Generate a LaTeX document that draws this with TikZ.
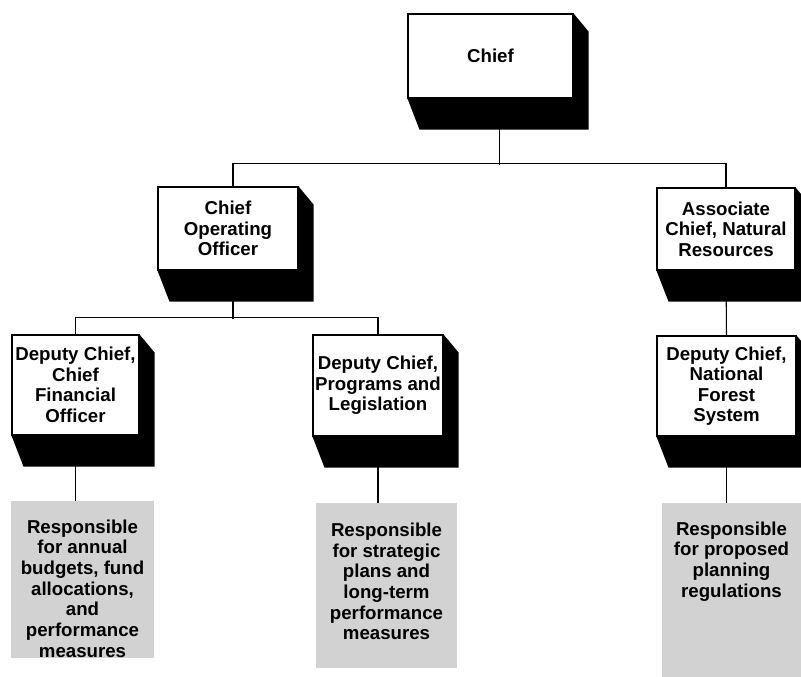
\documentclass[tikz,border=0pt]{standalone}
\usepackage{fontspec}
\setmainfont{Liberation Sans}
\usetikzlibrary{positioning}
\tikzstyle{office} = [rectangle,draw=black,fill=white,line width=0.8pt,align=center,inner sep=1pt, font=\fontsize{14}{15.4}\selectfont\bfseries]
\tikzstyle{note} = [rectangle,fill=gray!35,inner sep=0pt]
\tikzstyle{notetext} = [align=center,inner sep=0pt, font=\fontsize{14}{15.5}\selectfont\bfseries]
\tikzstyle{link} = [line width=0.8pt]
\newcommand{\dropshadow}[1]{%
  \fill (#1.south west) -- ++(12,31) -| ([xshift=11.25pt,yshift=-13.5pt]#1.north east)
        -- (#1.north east) -- (#1.south east) -- cycle;}

\begin{document}
\begin{tikzpicture}[x=0.75pt,y=-0.75pt]
\useasboundingbox (0,0) rectangle (801,677);
\clip (0,0) rectangle (801,677);

% Define nodes
\node[office, minimum width=123.75pt, minimum height=63pt]    (chief) at (490.5,56)  {Chief};
\node[office, minimum width=105pt, minimum height=62.25pt]    (coo)   at (228,228.5) {Chief\\Operating\\Officer};
\node[office, minimum width=103.5pt, minimum height=61.5pt]   (assoc) at (726,229)   {Associate\\Chief, Natural\\Resources};
\node[office, minimum width=95.25pt, minimum height=75pt]     (cfo)   at (75.5,385)  {Deputy Chief,\\Chief\\Financial\\Officer};
\node[office, minimum width=97.5pt, minimum height=75.75pt]   (legis) at (378,385.5) {Deputy Chief,\\Programs and\\Legislation};
\node[office, minimum width=104.25pt, minimum height=75pt]    (nfs)   at (726.5,386) {Deputy Chief,\\National\\Forest\\System};

% Shadows
\dropshadow{chief}
\dropshadow{coo}
\dropshadow{assoc}
\dropshadow{cfo}
\dropshadow{legis}
\dropshadow{nfs}

% Duties
\node[note, minimum width=107.25pt, minimum height=117.75pt]  (budget) at (82.5,579.5) {};
\node[note, minimum width=105.75pt, minimum height=123.75pt]  (plans)  at (386.5,585.5) {};
\node[note, minimum width=104.25pt, minimum height=130.5pt]   (regs)   at (731.5,590) {};

\node[notetext, below=14pt of budget.north] (budgettxt) {Responsible\\for annual\\budgets, fund\\allocations,\\and\\performance\\measures};
\node[notetext, below=15pt of plans.north]  (planstxt)  {Responsible\\for strategic\\plans and\\long-term\\performance\\measures};
\node[notetext, below=14pt of regs.north]   (regstxt)   {Responsible\\for proposed\\planning\\regulations};

% Edges
\draw[link] ([xshift=6.4pt]chief.south) -- ++(0,66);
\draw[link] ([xshift=3.75pt]coo.north) -- ++(0,-23) -| (assoc.north);
\draw[link] ([xshift=3.75pt]coo.south) -- ++(0,48);
\draw[link] (cfo.north) -- ++(0,-17) -| (legis.north);
\draw[link] (assoc.south) -- (nfs.north);
\draw[link] (cfo.south)   -- (cfo.south |- budget.north);
\draw[link] (legis.south) -- (legis.south |- plans.north);
\draw[link] (nfs.south)   -- (nfs.south |- regs.north);
\end{tikzpicture}
\end{document}
